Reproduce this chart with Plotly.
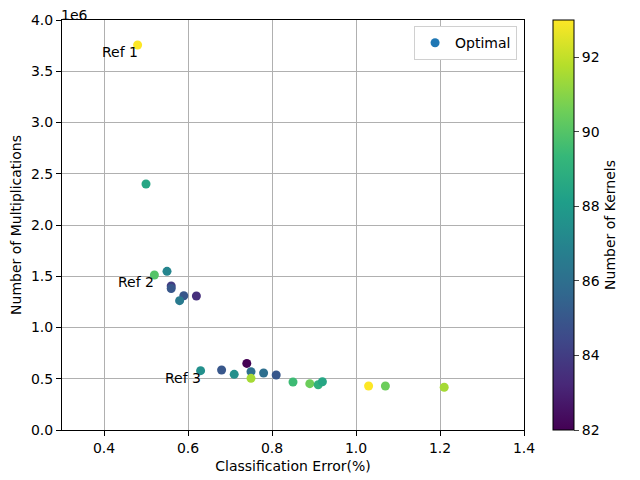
import plotly.graph_objects as go

# classification error (%), multiplications, kernels
error = [0.48, 0.50, 0.52, 0.55, 0.56, 0.56, 0.59, 0.58, 0.62,
         0.63, 0.68, 0.71, 0.74, 0.75, 0.75, 0.78, 0.81, 0.85,
         0.89, 0.91, 0.92, 1.03, 1.07, 1.21]
mults = [3.756e6, 2.40e6, 1.512e6, 1.548e6, 1.405e6, 1.38e6, 1.31e6, 1.262e6, 1.307e6,
         0.579e6, 0.585e6, 0.543e6, 0.65e6, 0.569e6, 0.504e6, 0.556e6, 0.537e6, 0.468e6,
         0.452e6, 0.442e6, 0.471e6, 0.429e6, 0.429e6, 0.417e6]
kernels = [93, 88.5, 90, 87, 84, 85, 85, 86.5, 83.5,
           87.5, 85, 87.5, 82, 86, 91.5, 86, 85, 89.5,
           90.5, 89, 88.5, 93, 90.5, 91.5]

ref_names = ["Ref 1", "Ref 2", "Ref 3"]
ref_x = [0.48, 0.52, 0.63]
ref_y = [3.756e6, 1.512e6, 0.579e6]

y_ticks = [0, 0.5e6, 1.0e6, 1.5e6, 2.0e6, 2.5e6, 3.0e6, 3.5e6, 4.0e6]
y_labels = ["0.0", "0.5", "1.0", "1.5", "2.0", "2.5", "3.0", "3.5", "4.0"]
x_ticks = [0.4, 0.6, 0.8, 1.0, 1.2, 1.4]
x_labels = ["0.4", "0.6", "0.8", "1.0", "1.2", "1.4"]
cbar_ticks = [82, 84, 86, 88, 90, 92]

font = dict(family="DejaVu Sans", size=14, color="black")

fig = go.Figure()

fig.add_trace(go.Scatter(
    x=error, y=mults, mode="markers", showlegend=False,
    marker=dict(
        color=kernels, colorscale="Viridis", cmin=82, cmax=93, size=9,
        colorbar=dict(
            title=dict(text="Number of Kernels", side="right", font=font),
            tickvals=cbar_ticks, ticks="outside", ticklen=5,
            thickness=21, len=1, lenmode="fraction", x=1.0628, xanchor="left",
            y=0.5, yanchor="middle", xpad=0, ypad=0,
            outlinewidth=1, outlinecolor="black",
            tickfont=font,
        ),
    ),
))

# legend entry
fig.add_trace(go.Scatter(
    x=[None], y=[None], mode="markers", name="Optimal",
    marker=dict(color="#1f77b4", size=9),
))

for name, rx, ry in zip(ref_names, ref_x, ref_y):
    fig.add_annotation(x=rx, y=ry, text=name, showarrow=False,
                       xanchor="right", yanchor="top", xshift=2, yshift=3,
                       font=font)

axis_common = dict(showgrid=True, gridcolor="#b0b0b0", gridwidth=1,
                   showline=True, linecolor="black", linewidth=1, mirror=True,
                   ticks="outside", ticklen=5, tickcolor="black",
                   zeroline=False, tickfont=font)

fig.update_xaxes(range=[0.3, 1.4], tickvals=x_ticks, ticktext=x_labels,
                 title=dict(text="Classification Error(%)", font=font, standoff=6),
                 **axis_common)
fig.update_yaxes(range=[0, 4.0e6], tickvals=y_ticks, ticktext=y_labels,
                 title=dict(text="Number of Multiplications", font=font, standoff=6),
                 **axis_common)

fig.add_annotation(x=0, y=1, xref="paper", yref="paper", text="1e6",
                   showarrow=False, xanchor="left", yanchor="bottom",
                   xshift=-3, yshift=-5, font=font)

# page body has an 8px margin, so the figure is 8px smaller on each axis
fig.update_layout(
    width=632, height=472,
    margin=dict(l=54, r=116, t=12, b=50, autoexpand=False),
    plot_bgcolor="white", paper_bgcolor="white",
    font=font,
    legend=dict(x=0.985, y=0.985, xanchor="right", yanchor="top",
                bordercolor="#d0d0d0", borderwidth=1, bgcolor="white",
                font=font),
)

fig.write_html("out.html")
